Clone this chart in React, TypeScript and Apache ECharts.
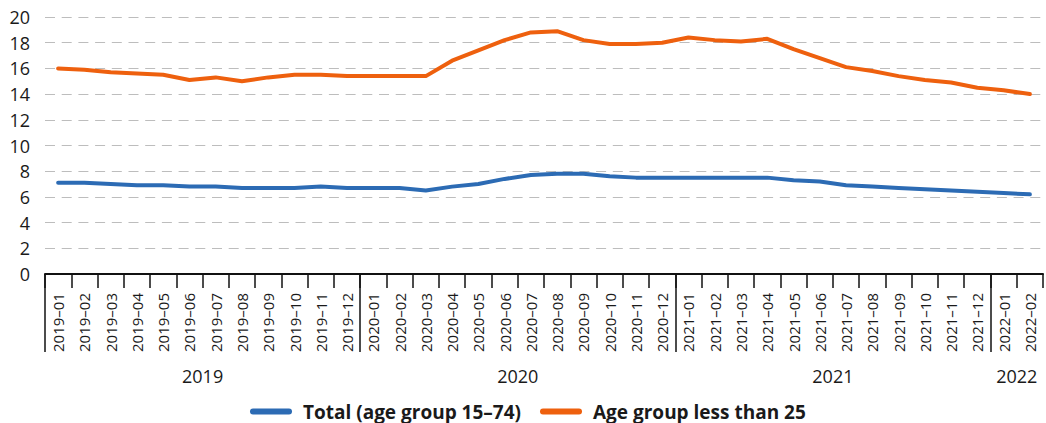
import React, { useEffect, useRef } from "react";
import * as echarts from "echarts";

const months = [
  "2019–01", "2019–02", "2019–03", "2019–04", "2019–05", "2019–06",
  "2019–07", "2019–08", "2019–09", "2019–10", "2019–11", "2019–12",
  "2020–01", "2020–02", "2020–03", "2020–04", "2020–05", "2020–06",
  "2020–07", "2020–08", "2020–09", "2020–10", "2020–11", "2020–12",
  "2021–01", "2021–02", "2021–03", "2021–04", "2021–05", "2021–06",
  "2021–07", "2021–08", "2021–09", "2021–10", "2021–11", "2021–12",
  "2022–01", "2022–02",
];

const totalSeries = [
  7.1, 7.1, 7.0, 6.9, 6.9, 6.8, 6.8, 6.7, 6.7, 6.7, 6.8, 6.7,
  6.7, 6.7, 6.5, 6.8, 7.0, 7.4, 7.7, 7.8, 7.8, 7.6, 7.5, 7.5,
  7.5, 7.5, 7.5, 7.5, 7.3, 7.2, 6.9, 6.8, 6.7, 6.6, 6.5, 6.4,
  6.3, 6.2,
];

const youthSeries = [
  16.0, 15.9, 15.7, 15.6, 15.5, 15.1, 15.3, 15.0, 15.3, 15.5, 15.5, 15.4,
  15.4, 15.4, 15.4, 16.6, 17.4, 18.2, 18.8, 18.9, 18.2, 17.9, 17.9, 18.0,
  18.4, 18.2, 18.1, 18.3, 17.5, 16.8, 16.1, 15.8, 15.4, 15.1, 14.9, 14.5,
  14.3, 14.0,
];

const seriesNames = ["Total (age group 15–74)", "Age group less than 25"];
const yTicks = { min: 0, max: 20, interval: 2 };

const FONT = "'Open Sans', sans-serif";

// Year groups derived from the month categories
const years: string[] = [];
const yearStart: number[] = [];
const yearCount: number[] = [];
months.forEach((m, i) => {
  const y = m.slice(0, 4);
  if (years[years.length - 1] !== y) {
    years.push(y);
    yearStart.push(i);
    yearCount.push(0);
  }
  yearCount[yearCount.length - 1]++;
});

// Half-month slots for the year axis (boundaryGap false)
const slotCount = months.length * 2 + 1;
const yearSlots: string[] = Array.from({ length: slotCount }, () => "");
const boundarySlots = new Set<number>();
years.forEach((y, gi) => {
  yearSlots[2 * yearStart[gi] + yearCount[gi]] = y;
  boundarySlots.add(2 * yearStart[gi]);
});

export default function App() {
  const ref = useRef<HTMLDivElement>(null);
  useEffect(() => {
    if (!ref.current) return;
    const chart = echarts.init(ref.current, undefined, { renderer: "svg" });
    chart.setOption({
      animation: false,
      textStyle: { fontFamily: FONT },
      grid: { left: 45, top: 17, right: -5, bottom: 149, containLabel: false },
      legend: {
        data: seriesNames,
        left: 250,
        top: 402,
        padding: 0,
        itemWidth: 42,
        itemHeight: 6,
        itemGap: 19,
        icon: "path://M3 0H39A3 3 0 0 1 39 6H3A3 3 0 0 1 3 0Z",
        itemStyle: { borderWidth: 0 },
        textStyle: {
          fontFamily: FONT,
          fontSize: 19,
          fontWeight: "bold",
          color: "#1a1a1a",
          padding: [0, 0, 0, 6],
        },
      },
      xAxis: [
        {
          type: "category",
          data: months,
          boundaryGap: true,
          position: "bottom",
          axisLine: { show: true, lineStyle: { color: "#111", width: 2 } },
          axisTick: { show: true, length: 14, lineStyle: { color: "#111", width: 1.5 } },
          axisLabel: {
            interval: 0,
            rotate: 90,
            margin: 19,
            fontSize: 15,
            color: "#1a1a1a",
            fontFamily: FONT,
          },
          splitLine: { show: false },
        },
        {
          type: "category",
          data: yearSlots,
          boundaryGap: false,
          position: "bottom",
          axisLine: { show: false },
          axisTick: {
            show: true,
            length: 78,
            interval: (index: number) => boundarySlots.has(index),
            lineStyle: { color: "#111", width: 1.5 },
          },
          axisLabel: {
            interval: 0,
            margin: 93,
            fontSize: 18,
            color: "#1a1a1a",
            fontFamily: FONT,
          },
          splitLine: { show: false },
        },
      ],
      yAxis: {
        type: "value",
        min: yTicks.min,
        max: yTicks.max,
        interval: yTicks.interval,
        axisLine: { show: false },
        axisTick: { show: false },
        axisLabel: { margin: 15, fontSize: 18, color: "#1a1a1a", fontFamily: FONT },
        splitLine: {
          show: true,
          lineStyle: { color: "#bdbdbd", width: 1, type: [10, 6.7] },
        },
      },
      series: [
        {
          name: seriesNames[0],
          type: "line",
          data: totalSeries,
          xAxisIndex: 0,
          symbol: "none",
          color: "#2c6bb4",
          lineStyle: { width: 4, color: "#2c6bb4", cap: "round", join: "round" },
        },
        {
          name: seriesNames[1],
          type: "line",
          data: youthSeries,
          xAxisIndex: 0,
          symbol: "none",
          color: "#ee600e",
          lineStyle: { width: 4, color: "#ee600e", cap: "round", join: "round" },
        },
      ],
    });
    return () => chart.dispose();
  }, []);
  return (
    <div
      ref={ref}
      style={{ position: "absolute", left: 0, top: 0, width: 1046, height: 423 }}
    />
  );
}
